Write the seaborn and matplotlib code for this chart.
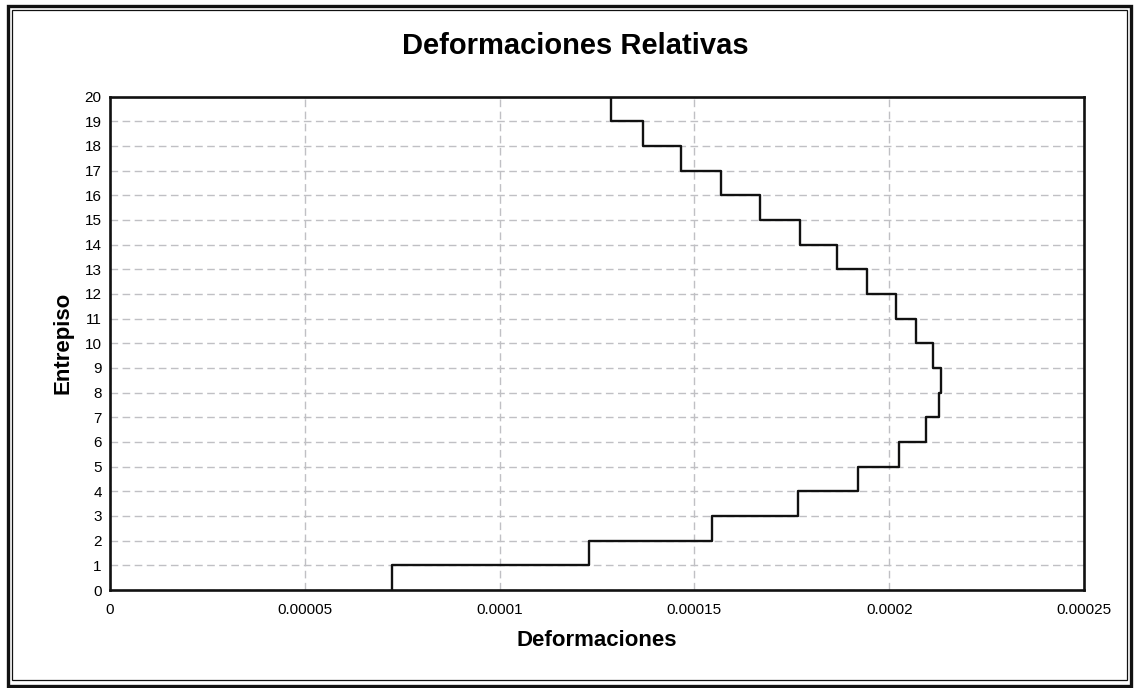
import numpy as np
import pandas as pd
import matplotlib
matplotlib.use("Agg")
import matplotlib.pyplot as plt
from matplotlib.patches import Rectangle
import seaborn as sns

# Relative story drift per storey (entrepiso 1 .. 20)
entrepisos = list(range(1, 21))
deformaciones = [
    7.23e-5, 1.229e-4, 1.545e-4, 1.767e-4, 1.920e-4,
    2.025e-4, 2.095e-4, 2.127e-4, 2.132e-4, 2.112e-4,
    2.068e-4, 2.017e-4, 1.942e-4, 1.866e-4, 1.772e-4,
    1.669e-4, 1.567e-4, 1.465e-4, 1.367e-4, 1.287e-4,
]
x_ticks = [0, 0.00005, 0.0001, 0.00015, 0.0002, 0.00025]
x_tick_labels = ["0", "0.00005", "0.0001", "0.00015", "0.0002", "0.00025"]
y_ticks = list(range(0, 21))

sns.set_style("white")
plt.rcParams["font.family"] = ["Liberation Sans", "DejaVu Sans"]
plt.rcParams["text.color"] = "black"
plt.rcParams["axes.labelcolor"] = "black"

# Each storey is a vertical segment from (n-1) to n at its drift value
step_x = np.repeat(deformaciones, 2)
step_y = np.column_stack([np.array(entrepisos) - 1, entrepisos]).ravel()
df = pd.DataFrame({"Deformaciones": step_x, "Entrepiso": step_y})

W, H = 1138, 688
fig = plt.figure(figsize=(W / 100, H / 100), dpi=100)
fig.patch.set_facecolor("white")

left, right, top, bottom = 110, 1084, 96.5, 590
ax = fig.add_axes([left / W, 1 - bottom / H, (right - left) / W, (bottom - top) / H])

sns.lineplot(data=df, x="Deformaciones", y="Entrepiso", sort=False,
             estimator=None, color="#111111", linewidth=1.7, ax=ax)

ax.set_xlim(0, 0.00025)
ax.set_ylim(0, 20)
ax.set_xticks(x_ticks)
ax.set_xticklabels(x_tick_labels)
ax.set_yticks(y_ticks)
ax.set_yticklabels([str(v) for v in y_ticks])

ax.grid(True, color="#c0c0c4", linestyle=(0, (5.5, 3.2)), linewidth=1.0)
ax.set_axisbelow(True)
for s in ax.spines.values():
    s.set_color("#111111")
    s.set_linewidth(1.9)
    s.set_visible(True)

ax.tick_params(axis="both", which="major", direction="inout", length=6,
               width=1.4, color="#111111", labelsize=11, labelcolor="black")
ax.tick_params(axis="x", pad=6)
ax.tick_params(axis="y", pad=3)

ax.set_xlabel("Deformaciones", fontsize=16, fontweight="bold", labelpad=10,
              color="black")
ax.set_ylabel("Entrepiso", fontsize=16, fontweight="bold", labelpad=8,
              color="black")

fig.text(575 / W, 1 - 46 / H, "Deformaciones Relativas", fontsize=21,
         fontweight="bold", ha="center", va="center", color="black")

# Double frame around the chart
fig.add_artist(Rectangle((7.5 / W, 2.5 / H), (W - 15) / W, (H - 8) / H,
                         transform=fig.transFigure, fill=False,
                         edgecolor="#111111", linewidth=2.4))
fig.add_artist(Rectangle((12 / W, 8 / H), (W - 23) / W, (H - 18) / H,
                         transform=fig.transFigure, fill=False,
                         edgecolor="#111111", linewidth=0.9))

fig.savefig("out.png", dpi=100)
